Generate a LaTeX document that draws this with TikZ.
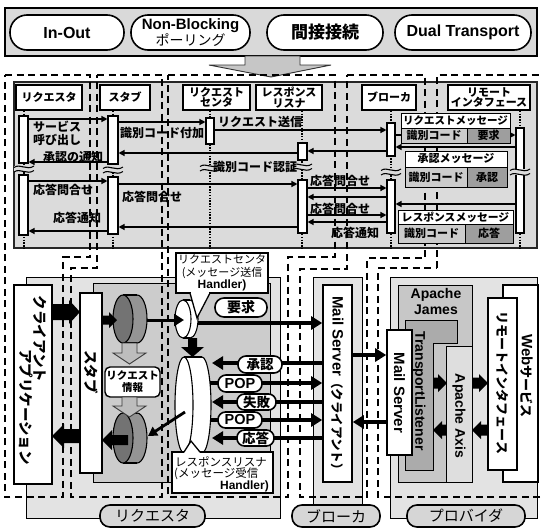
\documentclass[tikz,border=0pt]{standalone}
\usepackage{fontspec}
\setmainfont{Liberation Sans}
\newfontfamily\cjk{Noto Sans CJK JP}
\usetikzlibrary{arrows.meta,fit}
\definecolor{seqbg}{gray}{0.86}
\definecolor{barbg}{gray}{0.85}
\definecolor{panout}{gray}{0.89}
\definecolor{panin}{gray}{0.80}
\definecolor{james}{gray}{0.78}
\definecolor{tlc}{gray}{0.67}
\definecolor{axisc}{gray}{0.87}
\definecolor{cellA}{gray}{0.80}
\definecolor{cellB}{gray}{0.62}
\definecolor{cylface}{gray}{0.45}
\definecolor{cylbody}{gray}{0.58}
\definecolor{hollow}{gray}{0.74}
\definecolor{labpill}{gray}{0.84}
\newcommand\fsz[1]{\fontsize{#1}{#1}\selectfont}
\newcommand\hcyl[7]{%
  \filldraw[fill=#6, draw=black, line width=1.1pt] ({#1+#5},#2) ellipse [x radius=#3, y radius=#4];
  \fill[#6] (#1,{#2-#4}) rectangle ({#1+#5},{#2+#4});
  \draw[line width=1.1pt] (#1,{#2-#4}) -- ({#1+#5},{#2-#4}) (#1,{#2+#4}) -- ({#1+#5},{#2+#4});
  \filldraw[fill=#7, draw=black, line width=1.1pt] (#1,#2) ellipse [x radius=#3, y radius=#4];
}
\newcommand\blkR[6]{%
  \fill[black] (#1,{#3-#4}) -- ({#2-#6},{#3-#4}) -- ({#2-#6},{#3-#5}) -- (#2,#3) -- ({#2-#6},{#3+#5}) -- ({#2-#6},{#3+#4}) -- (#1,{#3+#4}) -- cycle;
}
\newcommand\brkmark[2]{%
  \fill[seqbg] ({#1-10},{#2-3}) rectangle ({#1+10},{#2+3});
  \draw[line width=1.1pt] ({#1-10},{#2-1.5}) .. controls ({#1-4},{#2-6}) and ({#1+3},{#2+2}) .. ({#1+10},{#2-3});
  \draw[line width=1.1pt] ({#1-10},{#2+3}) .. controls ({#1-4},{#2-1.5}) and ({#1+3},{#2+6.5}) .. ({#1+10},{#2+1.5});
}
\tikzset{
  wbox/.style={draw=black, line width=1.6pt, fill=white, inner sep=0pt},
  thinbox/.style={draw=black, line width=0.9pt, inner sep=0pt},
  actbar/.style={draw=black, line width=1.1pt, fill=white, inner sep=0pt},
  lifel/.style={line width=1.5pt, dash pattern=on 1.4pt off 1.4pt},
  msgarr/.style={line width=1.3pt, -{Triangle[length=6pt,width=6pt]}},
  bigarr/.style={line width=3.6pt, -{Triangle[length=11pt,width=13pt]}},
  region/.style={line width=2.3pt, dash pattern=on 7pt off 4.5pt},
  pill/.style={draw=black, line width=1.6pt, fill=white, rounded corners=#1, inner sep=0pt},
  lab/.style={font=\cjk\bfseries\fsz{12}, inner sep=0pt},
  hdr/.style={font=\cjk\bfseries\fontsize{11}{10.5}\selectfont, align=center, inner sep=0pt},
  msgt/.style={font=\cjk\bfseries\fsz{11}, inner sep=0pt},
  vtxt/.style={font=\cjk\bfseries\fsz{14.5}, inner sep=0pt, rotate=-90},
  cjkb/.style={font=\cjk\bfseries\fsz{13.5}, inner sep=0pt},
}
\begin{document}
\begin{tikzpicture}[x=1pt,y=-1pt]
\useasboundingbox (0,0) rectangle (541,528);
\fill[white] (0,0) rectangle (541,528);

% ---------- top bar ----------
\node[draw=black, line width=1.6pt, fill=barbg, inner sep=0pt, fit={(5,8)(537,56)}] (topbar) {};
\node[pill=17pt, fit={(10,15)(124,50)}] (pA) {};
\node[font=\bfseries\fsz{16}, inner sep=0pt] at (pA) {In-Out};
\node[pill=17pt, fit={(131,15)(250,50)}] (pB) {};
\node[align=center, inner sep=0pt, font=\fontsize{14}{15}\selectfont] at (pB) {{\bfseries\fsz{15}Non-Blocking}\\{\cjk\fsz{14}ポーリング}};
\node[pill=17pt, fit={(267,15)(383,50)}] (pC) {};
\node[font=\cjk\bfseries\fsz{17}, inner sep=0pt] at (pC) {間接接続};
\node[pill=17pt, fit={(395,15)(531,50)}] (pD) {};
\node[font=\bfseries\fsz{16}, inner sep=0pt] at (pD) {Dual Transport};
\filldraw[fill=gray!45, draw=gray!40!black, line width=0.9pt] (245,56) -- (300,56) -- (300,65) -- (331,65) -- (271,77) -- (209,65) -- (245,65) -- cycle;

% ---------- sequence box ----------
\node[draw=black!85, line width=2pt, fill=seqbg, inner sep=0pt, fit={(14,82)(537,248)}] (seq) {};

% ---------- bottom panels ----------
\node[thinbox, fill=panout, fit={(26,277)(280,518)}] (panReq) {};
\node[thinbox, fill=panin, fit={(93,283)(270,482)}] (panReqIn) {};
\node[thinbox, fill=panout, fit={(313,277)(362,518)}] (panBrk) {};
\node[thinbox, fill=panout, fit={(390,277)(537,518)}] (panPrv) {};
\node[thinbox, fill=james, fit={(398,285)(472,482)}] (panJames) {};
\filldraw[fill=tlc, draw=black, line width=0.9pt] (405,320) -- (457,320) -- (457,343) -- (433,343) -- (433,470) -- (405,470) -- cycle;
\node[thinbox, fill=axisc, fit={(446,346)(472,482)}] (panAxis) {};

% ---------- dashed regions ----------
\draw[region] (5,75) -- (90,75) -- (90,257) -- (63,257) -- (63,497) -- (5,497) -- cycle;
\draw[region] (97,75) -- (162,75) -- (162,497) -- (71,497) -- (71,268) -- (97,268) -- cycle;
\draw[region] (168,75) -- (335,75) -- (335,257) -- (288,257) -- (288,497) -- (168,497) -- cycle;
\draw[region] (347,75) -- (425,75) -- (425,258) -- (367,258) -- (367,497) -- (300,497) -- (300,269) -- (347,269) -- cycle;
\draw[region] (437,268) -- (437,75) -- (540,75);
\draw[region] (540,497) -- (378,497) -- (378,268) -- (437,268);

% ---------- sequence headers ----------
\node[wbox, fit={(16,85)(82,110)}] (hReq) {};
\node[hdr] at (hReq) {リクエスタ};
\node[wbox, fit={(100,85)(150,110)}] (hStub) {};
\node[hdr] at (hStub) {スタブ};
\node[wbox, fit={(183,85)(250,110)}] (hRC) {};
\node[hdr] at (hRC) {リクエスト\\センタ};
\node[wbox, fit={(256,85)(322,110)}] (hRL) {};
\node[hdr] at (hRL) {レスポンス\\リスナ};
\node[wbox, fit={(362,85)(416,110)}] (hBrk) {};
\node[hdr] at (hBrk) {ブローカ};
\node[wbox, fit={(448,85)(530,110)}] (hRem) {};
\node[hdr] at (hRem) {リモート\\インタフェース};

% lifelines
\draw[lifel] (24,0 |- hReq.south) -- (24,0 |- seq.south);
\draw[lifel] (113,0 |- hStub.south) -- (113,0 |- seq.south);
\draw[lifel] (210,0 |- hRC.south) -- (210,0 |- seq.south);
\draw[lifel] (302,0 |- hRL.south) -- (302,0 |- seq.south);
\draw[lifel] (391,0 |- hBrk.south) -- (391,0 |- seq.south);
\draw[lifel] (520,0 |- hRem.south) -- (520,0 |- seq.south);

% activations
\node[actbar, fit={(19,116)(28,163)}] (ra1) {};
\node[actbar, fit={(108,116)(118,164)}] (sa1) {};
\node[actbar, fit={(206,118)(214,144)}] (rca) {};
\node[actbar, fit={(387,123)(395,156)}] (ba1) {};
\node[actbar, fit={(516,128)(524,233)}] (rema) {};
\node[actbar, fit={(298,143)(307,160)}] (rla1) {};
\node[actbar, fit={(19,175)(28,235)}] (ra2) {};
\node[actbar, fit={(108,177)(118,234)}] (sa2) {};
\node[actbar, fit={(298,180)(307,233)}] (rla2) {};
\node[actbar, fit={(387,180)(395,233)}] (ba2) {};

% messages
\draw[msgarr] (ra1.east |- 0,119) -- (sa1.west |- 0,119);
\draw[msgarr] (sa1.east |- 0,122) -- (rca.west |- 0,122);
\draw[msgarr] (rca.east |- 0,130) -- (ba1.west |- 0,130);
\draw[msgarr] (ba1.east |- 0,135) -- (rema.west |- 0,135);
\draw[msgarr] (rema.west |- 0,147) -- (ba1.east |- 0,147);
\draw[msgarr] (ba1.west |- 0,151) -- (rla1.east |- 0,151);
\draw[msgarr] (rla1.west |- 0,153) -- (sa1.east |- 0,153);
\draw[msgarr] (sa1.west |- 0,162) -- (ra1.east |- 0,162);
\draw[msgarr] (ra2.east |- 0,181) -- (sa2.west |- 0,181);
\draw[msgarr] (sa2.east |- 0,184) -- (rla2.west |- 0,184);
\draw[msgarr] (rla2.east |- 0,188) -- (ba2.west |- 0,188);
\draw[msgarr] (ba2.west |- 0,197) -- (rla2.east |- 0,197);
\draw[msgarr] (rema.west |- 0,204) -- (ba2.east |- 0,204);
\draw[msgarr] (rla2.east |- 0,215) -- (ba2.west |- 0,215);
\draw[msgarr] (ba2.west |- 0,222) -- (rla2.east |- 0,222);
\draw[msgarr] (rla2.west |- 0,227) -- (sa2.east |- 0,227);
\draw[msgarr] (sa2.west |- 0,231) -- (ra2.east |- 0,231);

% break marks
\brkmark{24}{169}
\brkmark{113}{170}
\brkmark{210}{168}
\brkmark{302}{167}
\brkmark{391}{172}
\brkmark{520}{172}

% labels
\node[lab, anchor=west] at (33,127) {サービス};
\node[lab, anchor=west] at (33,140) {呼び出し};
\node[lab, anchor=west] at (43,157) {承認の通知};
\node[lab, anchor=west] at (120,133) {識別コード付加};
\node[lab, anchor=west] at (218,122) {リクエスト送信};
\node[lab, anchor=west] at (213,167) {識別コード認証};
\node[lab, anchor=west] at (33,190) {応答問合せ};
\node[lab, anchor=west] at (122,197) {応答問合せ};
\node[lab, anchor=west] at (53,218) {応答通知};
\node[lab, anchor=west] at (310,181) {応答問合せ};
\node[lab, anchor=west] at (310,209) {応答問合せ};
\node[lab, anchor=west] at (331,233) {応答通知};

% message boxes
\node[thinbox, fill=white, fit={(401,113)(510,128)}] (mq) {};
\node[msgt, font=\cjk\bfseries\fsz{10.5}] at (mq) {リクエストメッセージ};
\node[thinbox, fill=cellA, fit={(401,128)(467,143)}] (mq1) {};
\node[msgt] at (mq1) {識別コード};
\node[thinbox, fill=cellB, fit={(467,128)(510,143)}] (mq2) {};
\node[msgt] at (mq2) {要求};
\node[thinbox, fill=white, fit={(405,151)(507,167)}] (ma) {};
\node[msgt] at (ma) {承認メッセージ};
\node[thinbox, fill=cellA, fit={(405,167)(467,187)}] (ma1) {};
\node[msgt] at (ma1) {識別コード};
\node[thinbox, fill=cellB, fit={(467,167)(507,187)}] (ma2) {};
\node[msgt] at (ma2) {承認};
\node[thinbox, fill=white, fit={(398,210)(513,224)}] (mr) {};
\node[msgt, font=\cjk\bfseries\fsz{10.8}] at (mr) {レスポンスメッセージ};
\node[thinbox, fill=cellA, fit={(398,224)(465,243)}] (mr1) {};
\node[msgt] at (mr1) {識別コード};
\node[thinbox, fill=cellB, fit={(465,224)(513,243)}] (mr2) {};
\node[msgt] at (mr2) {応答};

% ---------- requester bottom ----------
\node[wbox, fit={(14,285)(52,484)}] (client) {};
\node[vtxt] at (40,339) {クライアント};
\node[vtxt] at (26,407) {アプリケーション};
\node[wbox, fit={(80,293)(102,473)}] (stub) {};
\node[vtxt] at (91,372) {スタブ};
\blkR{52}{80}{312}{8}{12}{11}
\blkR{80}{52}{436}{7}{12}{-12}

\hcyl{123}{319}{10}{24}{14}{cylbody}{cylface}
\hcyl{123}{438}{10}{25}{14}{cylbody}{cylface}
\coordinate (cyl1e) at (147,320);
\blkR{102}{117}{320}{4.5}{8}{8}

% hollow gray arrows
\filldraw[fill=hollow, draw=gray!45!black, line width=0.9pt] (122,343) -- (137,343) -- (137,353) -- (146,353) -- (129.5,364) -- (113,353) -- (122,353) -- cycle;
\node[draw=black, line width=1.4pt, fill=white, rounded corners=5pt, inner sep=0pt, fit={(105,367)(160,397)}] (info) {};
\node[font=\cjk\bfseries\fontsize{10.5}{12}\selectfont, align=center, inner sep=0pt] at (info) {リクエスト\\情報};
\filldraw[fill=hollow, draw=gray!45!black, line width=0.9pt] (122,397) -- (137,397) -- (137,406) -- (146,406) -- (129.5,417) -- (113,406) -- (122,406) -- cycle;
\blkR{128}{102}{440}{5}{10}{-10}

% request sender
\node[wbox, fit={(176,253)(268,293)}, line width=1.3pt] (sendbox) {};
\hcyl{183}{319}{8}{19}{7}{white}{white}
\coordinate (sendw) at (184,320);
\fill[white] (190,293) -- (197,318) -- (210,293) -- cycle;
\fill[white] (191,291.8) rectangle (209,293.8);
\draw[line width=1.3pt] (190,293) -- (197,318) -- (210,293);
\node[font=\cjk\fontsize{11}{12.5}\selectfont, align=center, inner sep=0pt] at (222,273) {リクエストセンタ\\(メッセージ送信\\{\rmfamily\bfseries\fsz{12}Handler)}};
\draw[line width=3pt, -{Triangle[length=10pt,width=12pt]}] (cyl1e) -- (sendw);

% down arrow sender -> listener
\fill[black] (188,338) -- (197,338) -- (197,347) -- (204,347) -- (192.5,357) -- (181,347) -- (188,347) -- cycle;

% response listener
\hcyl{184}{405}{9}{48}{18}{white}{white}
\draw[line width=2.8pt, -{Triangle[length=9pt,width=10pt]}] (185,412) -- (148,436);
\node[wbox, fit={(172,452)(273,493)}, line width=1.3pt] (recvbox) {};
\fill[white] (184,453) -- (191,441) -- (200,453) -- cycle;
\fill[white] (185,451.5) rectangle (199,453.5);
\draw[line width=1.3pt] (184,452) -- (191,441) -- (200,452);
\node[font=\cjk\fsz{11.5}, inner sep=0pt, anchor=west] at (175,462) {レスポンスリスナ};
\node[font=\cjk\fsz{11.5}, inner sep=0pt, anchor=west] at (174,474) {(メッセージ受信};
\node[font=\bfseries\fsz{12}, inner sep=0pt, anchor=east] at (269,486) {Handler)};

% ---------- broker ----------
\node[wbox, fit={(323,285)(352,482)}] (msc) {};
\node[rotate=-90, inner sep=0pt] at (337.5,386) {{\bfseries\fsz{15}Mail Server}{\cjk\bfseries\fsz{12.5}（クライアント）}};

% request / response arrows
\draw[bigarr] (198,323) -- (msc.west |- 0,323);
\draw[bigarr] (msc.west |- 0,363) -- (212,363);
\draw[bigarr] (210,383) -- (msc.west |- 0,383);
\draw[bigarr] (msc.west |- 0,402) -- (212,402);
\draw[bigarr] (210,420) -- (msc.west |- 0,420);
\draw[bigarr] (msc.west |- 0,438) -- (212,438);

\node[pill=9pt, fit={(215,298)(267,317)}] (pReq) {};
\node[cjkb, font=\cjk\bfseries\fsz{14}] at (pReq) {要求};
\node[pill=8pt, fit={(238,356)(282,373)}] (pAck) {};
\node[cjkb] at (pAck) {承認};
\node[pill=8pt, fit={(218,375)(262,392)}] (pPop1) {};
\node[font=\bfseries\fsz{14.5}, inner sep=0pt] at (pPop1) {POP};
\node[pill=7.5pt, fit={(237,394)(276,410)}] (pFail) {};
\node[cjkb] at (pFail) {失敗};
\node[pill=7.5pt, fit={(218,412)(262,428)}] (pPop2) {};
\node[font=\bfseries\fsz{14.5}, inner sep=0pt] at (pPop2) {POP};
\node[pill=7.5pt, fit={(237,430)(274,446)}] (pRes) {};
\node[cjkb] at (pRes) {応答};

% ---------- provider ----------
\node[wbox, fit={(387,330)(412,455)}] (msp) {};
\node[rotate=-90, font=\bfseries\fsz{15}, inner sep=0pt] at (399.5,393) {Mail Server};
\node[rotate=-90, font=\bfseries\fsz{14}, inner sep=0pt] at (419,391) {TransportListener};
\node[rotate=-90, font=\bfseries\fsz{14}, inner sep=0pt] at (459,416) {Apache Axis};
\node[align=center, font=\bfseries\fontsize{14}{16}\selectfont, inner sep=0pt] at (436,301) {Apache\\James};
\node[wbox, fit={(503,285)(538,482)}] (web) {};
\node[rotate=-90, inner sep=0pt] at (527,376) {{\bfseries\fsz{15}Web}{\cjk\bfseries\fsz{13}サービス}};
\node[wbox, fit={(488,298)(517,470)}] (rem) {};
\node[rotate=-90, font=\cjk\bfseries\fsz{13}, inner sep=0pt] at (502.5,383) {リモートインタフェース};

\draw[bigarr] (msc.east |- 0,355) -- (msp.west |- 0,355);
\draw[bigarr] (msp.west |- 0,422) -- (msc.east |- 0,422);
\blkR{433}{447}{383}{5.5}{9}{9}
\blkR{472}{488}{383}{5.5}{9}{9}
\blkR{488}{472}{430}{5.5}{9}{-9}
\blkR{446}{433}{430}{5.5}{9}{-9}

% ---------- bottom labels ----------
\node[pill=10pt, fill=labpill, fit={(100,505)(205,527)}] (lReq) {};
\node[font=\cjk\fsz{15}, inner sep=0pt] at (lReq) {リクエスタ};
\node[pill=10pt, fill=labpill, fit={(292,505)(380,527)}] (lBrk) {};
\node[font=\cjk\fsz{15}, inner sep=0pt] at (lBrk) {ブローカ};
\node[pill=10pt, fill=labpill, fit={(407,505)(525,527)}] (lPrv) {};
\node[font=\cjk\fsz{15}, inner sep=0pt] at (lPrv) {プロバイダ};
\end{tikzpicture}
\end{document}
